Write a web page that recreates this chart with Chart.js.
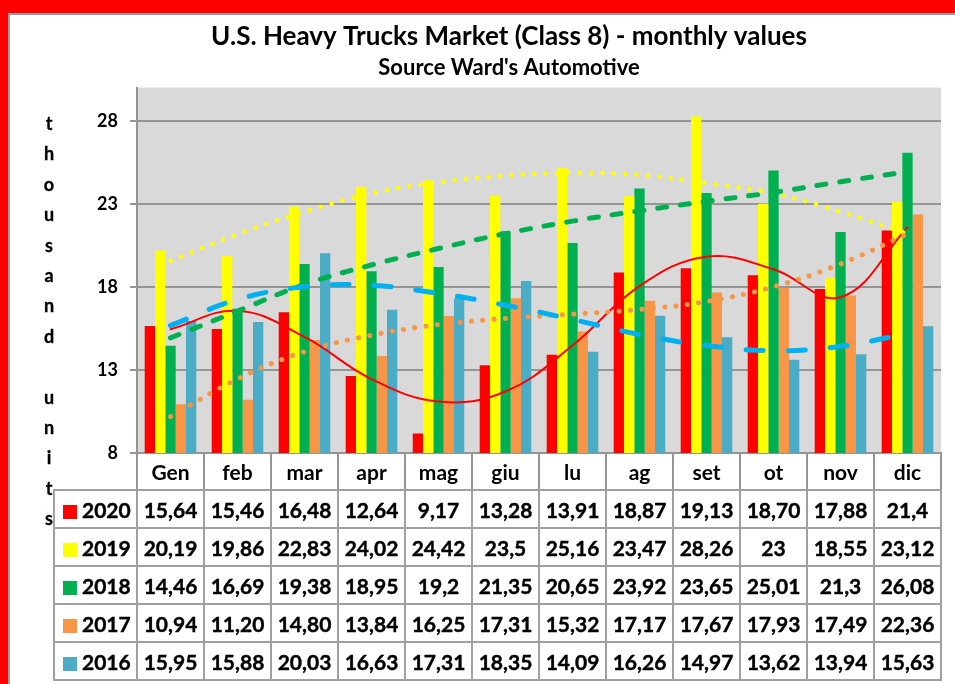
<!DOCTYPE html>
<html>
<head>
<meta charset="utf-8">
<script src="https://cdn.jsdelivr.net/npm/chart.js@4.4.1/dist/chart.umd.min.js"></script>
<style>
    html, body { margin: 0; padding: 0; }
    body { width: 955px; height: 684px; background: #ff0000; position: relative; overflow: hidden; font-family: Lato, sans-serif; }
    #panel { position: absolute; left: 8px; top: 13px; right: 0; bottom: 0; background: #fff; border-left: 2px solid #9a9a9a; border-top: 2px solid #9a9a9a; }
    #chart { position: absolute; left: 0; top: 0; }
    #yTitle { position: absolute; left: 34px; top: 108px; width: 30px; text-align: center; font: bold 18px Lato, sans-serif; line-height: 30.4px; color: #000; -webkit-text-stroke: 0.3px #000; }
    #dataTable { position: absolute; border-collapse: collapse; table-layout: fixed; font: bold 21px Lato, sans-serif; color: #000; -webkit-text-stroke: 0.4px #000; }
    #dataTable td { border: 2px solid #a0a0a0; text-align: center; padding: 0; height: 36px; white-space: nowrap; }
    #dataTable td.year { text-align: left; padding-left: 8px; }
    .key { display: inline-block; width: 14px; height: 14px; margin-right: 5px; vertical-align: -1px; -webkit-text-stroke: 0; }
</style>
</head>
<body>
<div id="panel"></div>
<canvas id="chart" width="955" height="684"></canvas>
<div id="yTitle"></div>
<table id="dataTable"></table>
<script>
const months = ["Gen", "feb", "mar", "apr", "mag", "giu", "lu", "ag", "set", "ot", "nov", "dic"];
const years = ["2020", "2019", "2018", "2017", "2016"];
const yTicks = [8, 13, 18, 23, 28];

// values as printed in the table (comma decimals)
const sales2020 = ["15,64", "15,46", "16,48", "12,64", "9,17", "13,28", "13,91", "18,87", "19,13", "18,70", "17,88", "21,4"];
const sales2019 = ["20,19", "19,86", "22,83", "24,02", "24,42", "23,5", "25,16", "23,47", "28,26", "23", "18,55", "23,12"];
const sales2018 = ["14,46", "16,69", "19,38", "18,95", "19,2", "21,35", "20,65", "23,92", "23,65", "25,01", "21,3", "26,08"];
const sales2017 = ["10,94", "11,20", "14,80", "13,84", "16,25", "17,31", "15,32", "17,17", "17,67", "17,93", "17,49", "22,36"];
const sales2016 = ["15,95", "15,88", "20,03", "16,63", "17,31", "18,35", "14,09", "16,26", "14,97", "13,62", "13,94", "15,63"];

// trendlines at each month
const trend2020 = [15.45, 16.56, 14.99, 12.45, 11.10, 11.70, 14.47, 18.05, 19.82, 19.06, 17.38, 21.58];
const trend2019 = [19.56, 21.17, 22.52, 23.63, 24.30, 24.70, 24.86, 24.74, 24.24, 23.63, 22.52, 21.20];
const trend2018 = [14.93, 16.54, 18.15, 19.32, 20.31, 21.21, 21.96, 22.58, 23.15, 23.69, 24.33, 24.94];
const trend2017 = [10.19, 12.45, 14.10, 15.09, 15.73, 16.10, 16.36, 16.64, 17.12, 18.01, 19.38, 21.20];
const trend2016 = [15.67, 17.24, 18.01, 18.09, 17.61, 16.90, 16.04, 15.13, 14.47, 14.16, 14.42, 15.20];

const barColors = ["#ff0000", "#ffff00", "#00b050", "#f79646", "#4bacc6"];
const gridGray = "#959595";
const FONT = "Lato, sans-serif";

function toNumber(s) {
    return parseFloat(s.replace(",", "."));
}

const salesRows = [sales2020, sales2019, sales2018, sales2017, sales2016];

const plotBackground = {
    id: "plotBackground",
    beforeDraw(chart) {
        const { ctx, chartArea: a } = chart;
        ctx.save();
        ctx.fillStyle = "#d9d9d9";
        ctx.fillRect(a.left, a.top, a.right - a.left, a.bottom - a.top);
        ctx.restore();
    }
};

function trendLine(data, color, width, dash) {
    return {
        type: "line",
        data: data,
        borderColor: color,
        borderWidth: width,
        borderDash: dash,
        borderCapStyle: "round",
        pointRadius: 0,
        tension: 0.4,
        fill: false,
        order: 0
    };
}

const barSets = salesRows.map((row, i) => ({
    type: "bar",
    label: years[i],
    data: row.map(toNumber),
    backgroundColor: barColors[i],
    borderWidth: 0,
    categoryPercentage: 0.77,
    barPercentage: 1.0,
    order: 1
}));

const lineSets = [
    trendLine(trend2016, "#00b0f0", 5, [17, 25]),
    trendLine(trend2018, "#00b050", 5, [9, 14]),
    trendLine(trend2017, "#f79646", 5, [0.1, 11.3]),
    trendLine(trend2019, "#ffff00", 4.5, [0.1, 11.3]),
    trendLine(trend2020, "#ff0000", 2, [])
];

const chart = new Chart(document.getElementById("chart"), {
    type: "bar",
    data: {
        labels: months,
        datasets: [...lineSets, ...barSets]
    },
    options: {
        responsive: false,
        animation: false,
        devicePixelRatio: 1,
        layout: { padding: { top: 10, left: 77, right: 14, bottom: 194 } },
        plugins: {
            legend: { display: false },
            tooltip: { enabled: false },
            title: {
                display: true,
                text: "U.S. Heavy Trucks Market (Class 8) - monthly values",
                color: "#000",
                font: { family: FONT, size: 26, weight: "bold" },
                padding: { top: 11, bottom: 2 }
            },
            subtitle: {
                display: true,
                text: "Source Ward's Automotive",
                color: "#000",
                font: { family: FONT, size: 22, weight: "bold" },
                padding: { top: 1, bottom: 6 }
            }
        },
        scales: {
            x: {
                offset: true,
                grid: { offset: true, drawOnChartArea: false, tickLength: 37, color: gridGray, lineWidth: 2 },
                border: { color: gridGray, width: 2 },
                ticks: { color: "#000", font: { family: FONT, size: 21, weight: "bold" }, padding: -29, maxRotation: 0, autoSkip: false },
                afterFit: (scale) => { scale.height = 37; }
            },
            y: {
                min: 8,
                max: 30,
                afterBuildTicks: (scale) => { scale.ticks = yTicks.map(v => ({ value: v })); },
                grid: { color: gridGray, lineWidth: 2, tickLength: 7 },
                border: { color: gridGray, width: 2 },
                ticks: { color: "#000", font: { family: FONT, size: 18, weight: "bold" }, padding: 12 },
                afterFit: (scale) => { scale.width = 60; }
            }
        }
    },
    plugins: [plotBackground]
});

function buildYTitle() {
    const letters = "thousand units".split("");
    document.getElementById("yTitle").innerHTML = letters.map(c => c === " " ? "&nbsp;" : c).join("<br>");
}

function buildTable(chart) {
    const xScale = chart.scales.x;
    const tableLeft = 54;
    const colW = xScale.width / months.length;
    const table = document.getElementById("dataTable");

    let html = "<colgroup><col style=\"width:" + (xScale.left - tableLeft) + "px\">";
    months.forEach(() => { html += "<col style=\"width:" + colW + "px\">"; });
    html += "</colgroup>";

    salesRows.forEach((row, i) => {
        html += "<tr><td class=\"year\"><span class=\"key\" style=\"background:" + barColors[i] + "\"></span>" + years[i] + "</td>";
        row.forEach(v => { html += "<td>" + v + "</td>"; });
        html += "</tr>";
    });

    table.innerHTML = html;
    table.style.width = (xScale.right - tableLeft) + "px";
    table.style.left = (tableLeft - 1) + "px";
    table.style.top = (xScale.bottom - 1) + "px";
}

buildYTitle();
buildTable(chart);
</script>
</body>
</html>
